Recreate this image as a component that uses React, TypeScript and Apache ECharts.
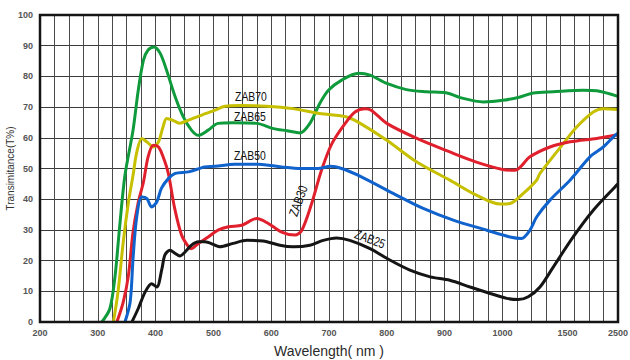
import React, { useEffect, useRef } from "react";
import * as echarts from "echarts";

// Wavelength tick labels (nm) shown on the axis (axis is broken after 1000 nm)
const X_TICKS = [200, 300, 400, 500, 600, 700, 800, 900, 1000, 1500, 2500];
const Y_TICKS_MAX = 100;

// ZAB70 (green)
const greenL = [307, 321, 330, 338, 347, 361, 370, 379, 387, 397, 408, 419, 434, 448, 462, 474, 491, 508, 534, 575, 604, 627, 650, 667, 684, 699, 722, 751, 771, 800, 834, 869, 904, 927, 967, 1002, 1136, 1238, 1391, 1814, 2079, 2500];
const greenT = [0, 4.4, 15.2, 31.5, 47.8, 62.5, 75.5, 85.3, 88.6, 89.6, 87.5, 82, 73.3, 66.8, 62.5, 60.8, 62.5, 64.7, 64.9, 64.7, 63, 62.3, 61.6, 64.7, 71.2, 75.5, 78.8, 81, 80.4, 77.7, 75.7, 75, 74.6, 73.1, 71.7, 72.2, 73.3, 74.6, 75, 75.5, 75.3, 73.5];

// yellow
const yellowL = [327, 335, 344, 353, 361, 367, 376, 386, 396, 405, 413, 419, 430, 442, 456, 480, 503, 520, 546, 592, 638, 684, 731, 754, 800, 852, 909, 955, 996, 1059, 1161, 1263, 1289, 1468, 1683, 2011, 2209, 2500];
const yellowT = [0, 9.8, 26, 39, 47.8, 54.9, 59.8, 58.5, 57, 58.7, 63.6, 66.3, 65.7, 64.7, 65.7, 67.4, 69, 70.3, 70.5, 70.3, 69.5, 67.9, 66.8, 64.7, 59.2, 52.1, 46.2, 41.3, 38.4, 38.6, 41.9, 46.2, 48.4, 58.1, 63.5, 68.4, 69.5, 69.2];

// ZAB30 (red)
const redL = [333, 344, 353, 361, 370, 379, 387, 396, 405, 413, 422, 433, 445, 457, 462, 474, 491, 508, 526, 549, 575, 595, 618, 641, 653, 670, 687, 705, 728, 745, 762, 773, 800, 852, 909, 955, 1002, 1097, 1212, 1366, 1551, 2079, 2440, 2500];
const redT = [0, 6.5, 15.2, 29.3, 39, 45.6, 53.8, 57.6, 57, 53.8, 48.4, 37, 28.3, 24.5, 23.9, 25.6, 27.7, 29.9, 31, 31.5, 33.7, 32.1, 29.3, 28.3, 29.9, 38.6, 49.4, 58.1, 64.7, 68.4, 69.5, 69, 64.7, 59.8, 55.4, 52.1, 49.7, 49.4, 53.8, 57, 58.7, 59.8, 60.8, 61];

// ZAB50 (blue)
const blueL = [347, 356, 361, 367, 376, 385, 393, 402, 410, 422, 434, 457, 485, 503, 537, 578, 618, 652, 681, 702, 722, 756, 811, 863, 915, 973, 1059, 1148, 1212, 1263, 1366, 1551, 1946, 2209, 2440, 2500];
const blueT = [0, 6.5, 20.7, 33.7, 40.7, 40.2, 37.5, 39.1, 43.5, 46.7, 48.4, 48.9, 50.5, 50.7, 51.4, 51.4, 50.5, 50, 50, 50.7, 50, 47.3, 41.9, 37, 33.2, 29.9, 27.7, 27.2, 29.9, 34.2, 39.7, 46.2, 53.8, 57, 60.8, 61.5];

// ZAB25 (black)
const blackL = [359, 370, 382, 393, 402, 411, 416, 425, 434, 442, 451, 462, 474, 485, 503, 511, 534, 558, 586, 615, 638, 667, 690, 713, 736, 771, 806, 840, 875, 909, 944, 979, 1033, 1122, 1199, 1289, 1391, 1614, 2011, 2440, 2500];
const blackT = [0, 4.4, 9.8, 12.5, 11.4, 17.4, 21.8, 23.4, 22.3, 21.5, 22.8, 25, 26.1, 26.1, 25, 24.5, 25.6, 26.6, 26.4, 25, 24.5, 25, 26.6, 27.4, 26.6, 23.9, 20.1, 16.9, 14.7, 13.6, 11.4, 9.3, 7.7, 7.3, 8.2, 11.4, 17.9, 27.7, 36.4, 44, 45];

// Curve labels: text, wavelength, transmittance, rotation (deg)
const LABEL_TEXT = ["ZAB70", "ZAB65", "ZAB50", "ZAB30", "ZAB25"];
const LABEL_L = [565, 563, 563, 646, 771];
const LABEL_T = [73.5, 67.2, 54.3, 39.5, 27.2];
const LABEL_ROT = [0, 0, 0, 70, -20];

// broken wavelength axis: 25 nm per grid unit up to 1000 nm, then compressed
function toPos(l: number): number {
  if (l <= 1000) return (l - 200) / 25;
  if (l <= 1500) return 32 + ((l - 1000) / 500) * 4.5;
  return 36.5 + ((l - 1500) / 1000) * 3.5;
}

function mk(L: number[], T: number[]) {
  return L.map((l, i) => [toPos(l), T[i]]);
}

export default function App() {
  const ref = useRef<HTMLDivElement>(null);
  useEffect(() => {
    if (!ref.current) return;
    const chart = echarts.init(ref.current, null, { renderer: "svg" });
    const lineSeries = (name: string, data: number[][], color: string) => ({
      name,
      type: "line",
      data,
      smooth: 0.3,
      showSymbol: false,
      symbol: "none",
      xAxisIndex: 0,
      yAxisIndex: 0,
      lineStyle: { color, width: 3 },
      z: 3,
    });
    chart.setOption({
      animation: false,
      backgroundColor: "#ffffff",
      grid: {
        left: 40,
        right: 12,
        top: 15,
        bottom: 38,
        containLabel: false,
        outerBoundsMode: "none",
        show: true,
        borderColor: "#151515",
        borderWidth: 2.5,
        backgroundColor: "transparent",
        z: 4,
      },
      xAxis: [
        {
          type: "value",
          min: 0,
          max: 40,
          interval: 1,
          axisLine: { show: false },
          axisTick: { show: false },
          axisLabel: { show: false },
          splitLine: { show: true, lineStyle: { color: "#4a4a4a", width: 1 } },
        },
        {
          type: "value",
          min: 0,
          max: 40,
          interval: 0.5,
          position: "bottom",
          axisLine: { show: false },
          axisTick: { show: false },
          splitLine: { show: false },
          axisLabel: {
            margin: 6,
            fontSize: 9,
            fontWeight: "bold",
            color: "#555",
            fontFamily: "Liberation Sans, Arial, sans-serif",
            formatter: (v: number) => {
              const t = X_TICKS.find((x) => Math.abs(toPos(x) - v) < 1e-6);
              return t !== undefined ? String(t) : "";
            },
          },
          name: "Wavelength( nm )",
          nameLocation: "middle",
          nameGap: 22,
          nameMoveOverlap: false,
          nameTextStyle: {
            fontSize: 14,
            color: "#2a2a2a",
            fontFamily: "Liberation Sans, Arial, sans-serif",
          },
        },
      ],
      yAxis: {
        type: "value",
        min: 0,
        max: Y_TICKS_MAX,
        interval: 10,
        axisLine: { show: false },
        axisTick: { show: false },
        splitLine: { show: true, lineStyle: { color: "#3a3a3a", width: 1 } },
        axisLabel: {
          margin: 7,
          fontSize: 9,
          fontWeight: "bold",
          color: "#555",
          fontFamily: "Liberation Sans, Arial, sans-serif",
        },
        name: "Transimitance(T%)",
        nameLocation: "middle",
        nameGap: 25,
        nameMoveOverlap: false,
        nameTextStyle: {
          fontSize: 10,
          color: "#333",
          fontFamily: "Liberation Sans, Arial, sans-serif",
        },
      },
      series: [
        lineSeries("green", mk(greenL, greenT), "#0f9a3c"),
        lineSeries("yellow", mk(yellowL, yellowT), "#c6c000"),
        lineSeries("red", mk(redL, redT), "#e0202c"),
        lineSeries("blue", mk(blueL, blueT), "#1062cc"),
        lineSeries("black", mk(blackL, blackT), "#151515"),
      ],
    });
    const graphic = LABEL_TEXT.map((text, i) => {
      const p = chart.convertToPixel({ xAxisIndex: 0, yAxisIndex: 0 } as any, [toPos(LABEL_L[i]), LABEL_T[i]]) as number[];
      return {
        type: "text",
        x: p[0],
        y: p[1],
        rotation: (LABEL_ROT[i] * Math.PI) / 180,
        scaleX: 0.8,
        z: 10,
        style: {
          text,
          fill: "#111",
          fontSize: 13,
          fontFamily: "Liberation Sans, Arial, sans-serif",
          align: "center",
          verticalAlign: "middle",
        },
      };
    });
    chart.setOption({ graphic });
    return () => chart.dispose();
  }, []);
  return <div ref={ref} style={{ width: 630, height: 360, position: "absolute", left: 0, top: 0 }} />;
}
